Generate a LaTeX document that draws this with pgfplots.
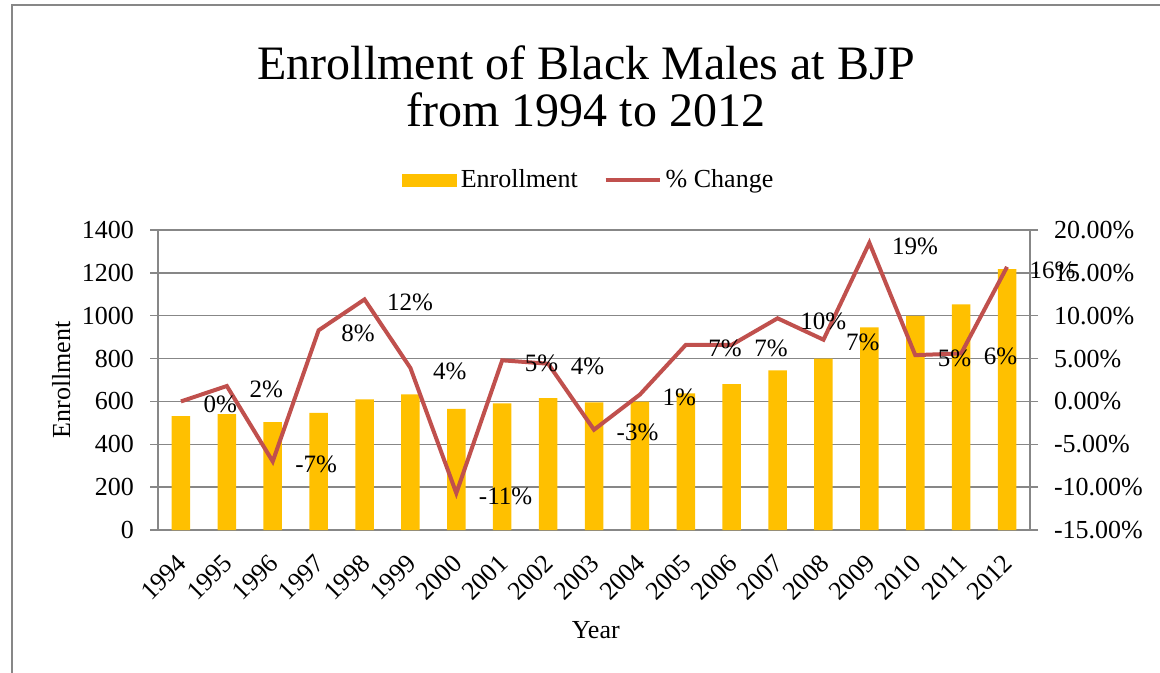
\documentclass[border=0pt]{standalone}
\usepackage{pgfplots}
\pgfplotsset{compat=1.18}
\usepackage{fontspec}
\setmainfont{Liberation Serif}

\definecolor{bargold}{HTML}{FFC000}
\definecolor{linered}{HTML}{C0504D}
\definecolor{gridgray}{HTML}{878787}
\newcommand\cf{\fontsize{13}{15}\selectfont}

% enrollment per year (x = 0 ... 18 for 1994 ... 2012)
\pgfplotstableread{
x enroll
0 532
1 541
2 504
3 547
4 610
5 633
6 565
7 591
8 616
9 596
10 599
11 638
12 681
13 745
14 800
15 946
16 999
17 1053
18 1218
}\enrolltable

% percent change
\pgfplotstableread{
x change
0 0.0
1 1.8
2 -7.0
3 8.3
4 11.9
5 3.9
6 -10.7
7 4.8
8 4.4
9 -3.3
10 0.8
11 6.6
12 6.6
13 9.7
14 7.2
15 18.5
16 5.4
17 5.6
18 15.7
}\changetable

\begin{document}
\begin{tikzpicture}
\useasboundingbox (0pt,0pt) rectangle (580pt,-336.5pt);
% chart area frame (left and top edges visible)
\draw[gridgray, line width=0.75pt] (6pt,-336.5pt) -- (6pt,-2.5pt) -- (580pt,-2.5pt);
\node[align=center, font=\fontsize{24}{23.5}\selectfont] at (293pt,-43pt)
  {Enrollment of Black Males at BJP\\from 1994 to 2012};

\pgfplotsset{
  base/.style={
    at={(79pt,-265pt)}, anchor=south west,
    scale only axis, width=436pt, height=150pt,
    xmin=-0.5, xmax=18.5,
    /pgf/number format/assume math mode=true,
    /pgf/number format/1000 sep={},
    tick label style={font=\cf, black},
    label style={font=\cf},
    axis line style={gridgray, line width=0.75pt},
    tick style={gridgray, line width=0.75pt},
    tick align=outside,
    major tick length=4pt,
  }
}

\begin{axis}[base,
  ymin=0, ymax=1400, ytick={0,200,...,1400},
  ytick pos=left,
  yticklabel style={xshift=-4.5pt},
  xtick={0,...,18},
  xticklabels={1994,1995,1996,1997,1998,1999,2000,2001,2002,2003,2004,2005,2006,2007,2008,2009,2010,2011,2012},
  xtick style={draw=none},
  xticklabel style={xshift=3pt, yshift=-8pt, rotate=45, anchor=east},
  ymajorgrids, grid style={gridgray, line width=0.75pt},
  xlabel={Year}, ylabel={Enrollment},
  xlabel style={at={(axis description cs:0.502,-0.333)}, anchor=center},
  ylabel style={at={(axis description cs:-0.111,0.5)}, anchor=center},
]
\addplot[ybar, bar width=9.25pt, fill=bargold, draw=none] table[x=x, y=enroll] {\enrolltable};
\end{axis}

\begin{axis}[base,
  ymin=-15, ymax=20, ytick={-15,-10,...,20},
  axis x line=none, axis y line*=right,
  yticklabel style={xshift=4.5pt},
  yticklabel={\pgfmathprintnumber[fixed, fixed zerofill, precision=2]{\tick}\%},
  legend style={at={(0.495,1.1667)}, anchor=center, draw=none, fill=none,
    font=\cf, legend columns=2,
    /tikz/every even column/.append style={column sep=11pt}},
]
\addlegendimage{legend image code/.code={\fill[bargold] (0pt,-3pt) rectangle (27pt,3pt);}}
\addlegendentry{Enrollment}
\addplot[linered, line width=2pt, mark=none,
  legend image code/.code={\draw[linered, line width=2pt] (0pt,0pt) -- (27pt,0pt);},
  nodes near coords={\pgfmathprintnumber[fixed, precision=0]{\pgfplotspointmeta}\%},
  point meta=y,
  every node near coord/.append style={font=\fontsize{12.5}{15}\selectfont, black,
    anchor=west, xshift=7pt, yshift=-1.5pt},
] table[x=x, y=change] {\changetable};
\addlegendentry{\% Change}
\end{axis}
\end{tikzpicture}
\end{document}
